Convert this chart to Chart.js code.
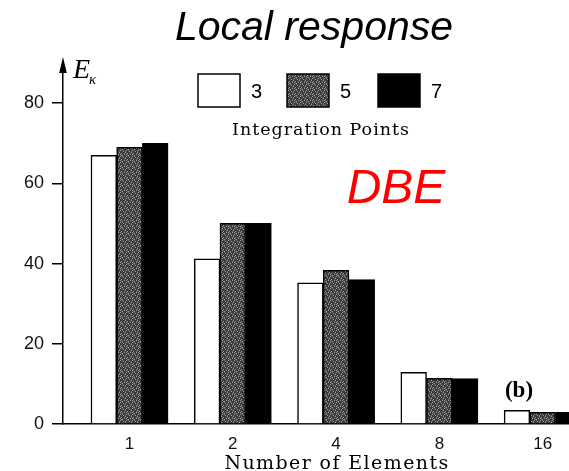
<!DOCTYPE html>
<html><head><meta charset="utf-8">
<script src="https://cdn.jsdelivr.net/npm/chart.js@4/dist/chart.umd.min.js"></script>
<style>html,body{margin:0;padding:0;background:#fff;overflow:hidden}</style>
</head><body>
<canvas id="c" width="569" height="471" style="display:block;width:569px;height:471px"></canvas>
<script>
const categories = ['1', '2', '4', '8', '16'];
const seriesLabels = ['3', '5', '7'];
const pts3 = [67, 41.2, 35.2, 12.9, 3.4];
const pts5 = [69, 50, 38.3, 11.4, 2.9];
const pts7 = [70, 50, 36, 11.3, 2.9];
const yTicks = [0, 20, 40, 60, 80];
const titleText = 'Local response';
const legendTitle = 'Integration Points';
const xTitle = 'Number of Elements';
const yTitle = 'E';
const ySub = 'κ';
const noteRed = 'DBE';
const noteB = '(b)';

function stipple() {
  const p = document.createElement('canvas');
  p.width = 6; p.height = 6;
  const g = p.getContext('2d');
  g.fillStyle = '#3a3a3a'; g.fillRect(0, 0, 6, 6);
  g.fillStyle = '#a0a0a0';
  [[0,0],[3,1],[1,3],[4,4],[2,5],[5,2],[0,4]].forEach(([x, y]) => g.fillRect(x, y, 1, 1));
  g.fillStyle = '#6a6a6a';
  [[2,0],[5,1],[4,3],[1,5]].forEach(([x, y]) => g.fillRect(x, y, 1, 1));
  return g.createPattern(p, 'repeat');
}
const grayFill = stipple();

const fills = ['#ffffff', grayFill, '#000000'];
const series = [pts3, pts5, pts7];

const datasets = series.map((arr, k) => ({
  label: seriesLabels[k],
  data: arr.map((v, i) => ({ x: i, y: v })),
  backgroundColor: fills[k],
  borderColor: '#000',
  borderWidth: 1.5,
  barThickness: 25.7,
  borderSkipped: 'start'
}));

const decor = {
  id: 'decor',
  afterDraw(chart) {
    const ctx = chart.ctx;
    const ca = chart.chartArea;
    const ax = ca.left;
    ctx.save();
    // arrow on y axis
    ctx.fillStyle = '#000';
    ctx.strokeStyle = '#000';
    ctx.lineWidth = 1.5;
    ctx.beginPath(); ctx.moveTo(ax, ca.top); ctx.lineTo(ax, 70); ctx.stroke();
    ctx.beginPath(); ctx.moveTo(ax, 57); ctx.lineTo(ax - 3.8, 73); ctx.lineTo(ax + 3.8, 73); ctx.closePath(); ctx.fill();
    // y title
    ctx.textBaseline = 'alphabetic';
    ctx.textAlign = 'left';
    ctx.font = 'italic 28px "Liberation Serif"';
    ctx.fillText(yTitle, 73, 78);
    ctx.font = 'italic 15px "Liberation Serif"';
    ctx.fillText(ySub, 89, 84);
    // title
    ctx.textAlign = 'center';
    ctx.font = 'italic 41px "Liberation Sans"';
    ctx.fillText(titleText, 314, 40);
    // legend
    const boxes = [198, 287, 378];
    chart.data.datasets.forEach((ds, k) => {
      const x = boxes[k];
      ctx.fillStyle = ds.backgroundColor;
      ctx.fillRect(x, 74, 42, 33);
      ctx.lineWidth = 1.5;
      ctx.strokeStyle = '#000';
      ctx.strokeRect(x, 74, 42, 33);
      ctx.fillStyle = '#000';
      ctx.textAlign = 'left';
      ctx.font = '20px "Liberation Sans"';
      ctx.fillText(ds.label, x + 53, 98);
    });
    ctx.textAlign = 'center';
    ctx.letterSpacing = '1px';
    ctx.font = '17.5px "DejaVu Serif"';
    ctx.fillText(legendTitle, 321, 135);
    // x title
    ctx.letterSpacing = '1.4px';
    ctx.font = '19px "DejaVu Serif"';
    ctx.fillText(xTitle, 337, 469);
    ctx.letterSpacing = '0px';
    // DBE
    ctx.fillStyle = '#ff0000';
    ctx.font = 'italic 48px "Liberation Sans"';
    ctx.fillText(noteRed, 396, 203);
    // (b)
    ctx.fillStyle = '#000';
    ctx.font = 'bold 23px "Liberation Serif"';
    ctx.fillText(noteB, 519, 397);
    ctx.restore();
  }
};

new Chart(document.getElementById('c'), {
  type: 'bar',
  data: { datasets },
  options: {
    responsive: false,
    animation: false,
    devicePixelRatio: 1,
    layout: { padding: { top: 63, right: 0, left: 0, bottom: 0 } },
    plugins: { legend: { display: false }, tooltip: { enabled: false }, title: { display: false } },
    scales: {
      x: {
        type: 'linear',
        offset: false,
        min: -0.644,
        max: 4.255,
        afterBuildTicks: s => { s.ticks = categories.map((_, i) => ({ value: i })); },
        afterFit: s => { s.height = 47; },
        ticks: {
          callback: v => categories[v],
          color: '#111',
          font: { family: 'Liberation Sans', size: 17 },
          padding: 10,
          maxRotation: 0,
          autoSkip: false
        },
        grid: { display: false, drawTicks: false, offset: false },
        border: { display: true, color: '#000', width: 1.5 }
      },
      y: {
        min: 0,
        max: 90,
        afterBuildTicks: s => { s.ticks = yTicks.map(v => ({ value: v })); },
        afterFit: s => { s.width = 63; },
        ticks: {
          color: '#111',
          font: { family: 'Liberation Sans', size: 18 },
          padding: 8
        },
        grid: { drawOnChartArea: false, drawTicks: true, tickLength: 11, color: '#000', lineWidth: 1.5 },
        border: { display: true, color: '#000', width: 1.5 }
      }
    }
  },
  plugins: [decor]
});
</script>
</body></html>
